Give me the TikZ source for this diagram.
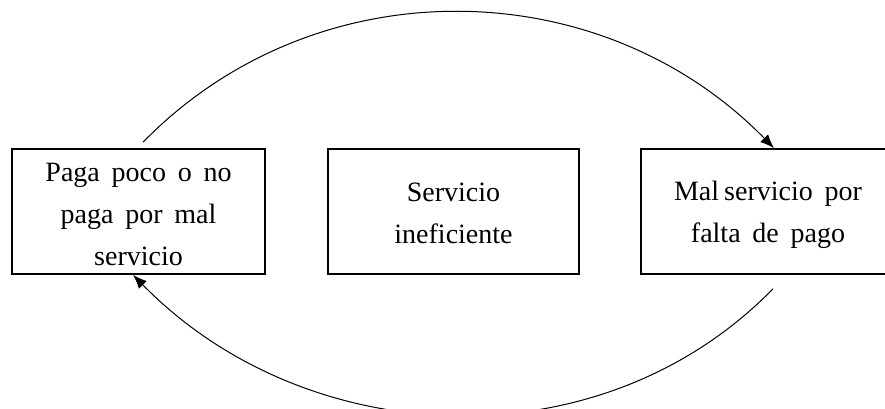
\documentclass[tikz,border=0pt]{standalone}
\usepackage{fontspec}
\setmainfont{Liberation Serif}
\usetikzlibrary{arrows.meta}
\newcommand\myboxfont{\fontsize{28}{42}\selectfont\spaceskip=0.42em plus 0.1em\relax}
\begin{document}
\begin{tikzpicture}[x=1pt,y=-1pt,
  box/.style={draw, line width=1.6pt, minimum width=#1, minimum height=125pt,
    align=center, font=\myboxfont, inner sep=0pt, text depth=0pt},
  conn/.style={line width=1pt, -{Latex[length=14pt,width=11pt]}}]
\useasboundingbox (0,0) rectangle (885,408);
\node[box=253pt, text height=107pt] (L) at (138.5,211.5) {Paga poco o no\\paga por mal\\servicio};
\node[box=251pt, text height=63pt] (M) at (453.5,211.5) {Servicio\\ineficiente};
\node[box=254pt, text height=61pt] (R) at (768,211.5) {Mal\hspace{0.18em}servicio por\\falta de pago};
\coordinate (ts) at ([xshift=4.5pt,yshift=6pt]L.north);
\coordinate (te) at ([xshift=6pt]R.north);
\coordinate (bs) at ([xshift=5pt,yshift=-14pt]R.south);
\coordinate (be) at ([xshift=-5.5pt]L.south);
\draw[conn] (ts) .. controls +(173,-177) and +(-173,-177) .. (te);
\draw[conn] (bs) .. controls +(-173,177) and +(173,177) .. (be);
\end{tikzpicture}
\end{document}
